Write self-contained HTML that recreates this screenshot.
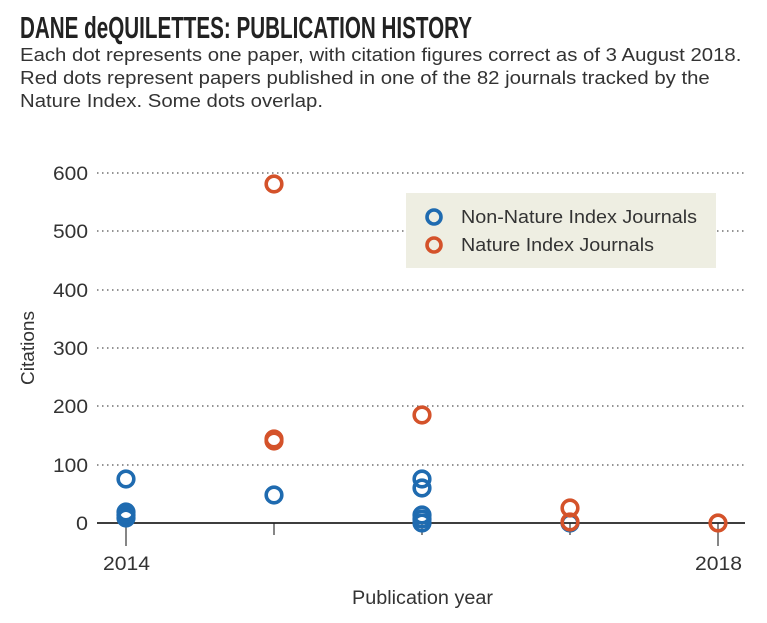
<!DOCTYPE html>
<html><head><meta charset="utf-8"><style>
html,body{margin:0;padding:0;background:#fff;}
body{width:767px;height:623px;overflow:hidden;position:relative;font-family:"Liberation Sans",sans-serif;}
.t{position:absolute;left:20px;top:10px;font-family:"Liberation Sans Narrow","Liberation Sans",sans-serif;font-weight:bold;font-size:31px;color:#222;white-space:nowrap;transform:scaleX(0.665);transform-origin:0 0;}
.s{position:absolute;left:20px;top:44px;font-size:18px;line-height:23px;color:#333;white-space:nowrap;transform:scaleX(1.13);transform-origin:0 0;}
</style></head><body>
<div class="t">DANE deQUILETTES: PUBLICATION HISTORY</div>
<div class="s">Each dot represents one paper, with citation figures correct as of 3 August 2018.<br>Red dots represent papers published in one of the 82 journals tracked by the<br>Nature Index. Some dots overlap.</div>
<svg width="767" height="623" style="position:absolute;left:0;top:0" font-family="Liberation Sans, sans-serif">
<g stroke="#555" stroke-width="1.3" stroke-dasharray="1.5 3.5">
<line x1="97" y1="173" x2="745" y2="173"/><line x1="97" y1="231" x2="745" y2="231"/>
<line x1="97" y1="290" x2="745" y2="290"/><line x1="97" y1="348" x2="745" y2="348"/>
<line x1="97" y1="406" x2="745" y2="406"/><line x1="97" y1="465" x2="745" y2="465"/>
</g>
<g font-size="19" fill="#333">
<text x="53" y="180" textLength="35" lengthAdjust="spacingAndGlyphs">600</text>
<text x="53" y="238" textLength="35" lengthAdjust="spacingAndGlyphs">500</text>
<text x="53" y="297" textLength="35" lengthAdjust="spacingAndGlyphs">400</text>
<text x="53" y="355" textLength="35" lengthAdjust="spacingAndGlyphs">300</text>
<text x="53" y="413" textLength="35" lengthAdjust="spacingAndGlyphs">200</text>
<text x="53" y="472" textLength="35" lengthAdjust="spacingAndGlyphs">100</text>
<text x="76" y="530" textLength="12" lengthAdjust="spacingAndGlyphs">0</text>
</g>
<text transform="translate(34,348) rotate(-90)" font-size="18" fill="#333" text-anchor="middle" textLength="74" lengthAdjust="spacingAndGlyphs">Citations</text>
<g stroke="#444" stroke-width="1.3">
<line x1="126" y1="523" x2="126" y2="546"/><line x1="274" y1="523" x2="274" y2="535"/>
<line x1="422" y1="523" x2="422" y2="535"/><line x1="570" y1="523" x2="570" y2="535"/>
<line x1="718" y1="523" x2="718" y2="546"/>
</g>
<line x1="97" y1="523" x2="745" y2="523" stroke="#222" stroke-width="1.8"/>
<text x="103" y="570" font-size="19" fill="#333" textLength="47" lengthAdjust="spacingAndGlyphs">2014</text>
<text x="695" y="570" font-size="19" fill="#333" textLength="47" lengthAdjust="spacingAndGlyphs">2018</text>
<text x="352" y="604" font-size="19" fill="#333" textLength="141" lengthAdjust="spacingAndGlyphs">Publication year</text>
<rect x="406" y="193" width="310" height="75" fill="#eeeee2"/>
<g fill="none" stroke-width="3.6">
<circle cx="434" cy="217" r="7" stroke="#1f6bb0"/>
<circle cx="434" cy="245" r="7" stroke="#d4522a"/>
</g>
<text x="461" y="223" font-size="18" fill="#333" textLength="236" lengthAdjust="spacingAndGlyphs">Non-Nature Index Journals</text>
<text x="461" y="251" font-size="18" fill="#333" textLength="193" lengthAdjust="spacingAndGlyphs">Nature Index Journals</text>
<g fill="none" stroke="#1f6bb0" stroke-width="3.6">
<circle cx="126" cy="479" r="7.8"/><circle cx="126" cy="512" r="7.8"/><circle cx="126" cy="515" r="7.8"/><circle cx="126" cy="518" r="7.8"/>
<circle cx="274" cy="495" r="7.8"/>
<circle cx="422" cy="479" r="7.8"/><circle cx="422" cy="488" r="7.8"/><circle cx="422" cy="515" r="7.8"/><circle cx="422" cy="519" r="7.8"/><circle cx="422" cy="523" r="7.8"/>
<circle cx="570" cy="523" r="7.8"/>
</g>
<g fill="none" stroke="#d4522a" stroke-width="3.6">
<circle cx="274" cy="184" r="7.8"/><circle cx="274" cy="439" r="7.8"/><circle cx="274" cy="441" r="7.8"/>
<circle cx="422" cy="415" r="7.8"/>
<circle cx="570" cy="508" r="7.8"/><circle cx="570" cy="522" r="7.8"/>
<circle cx="718" cy="523" r="7.8"/>
</g>
</svg>
</body></html>
